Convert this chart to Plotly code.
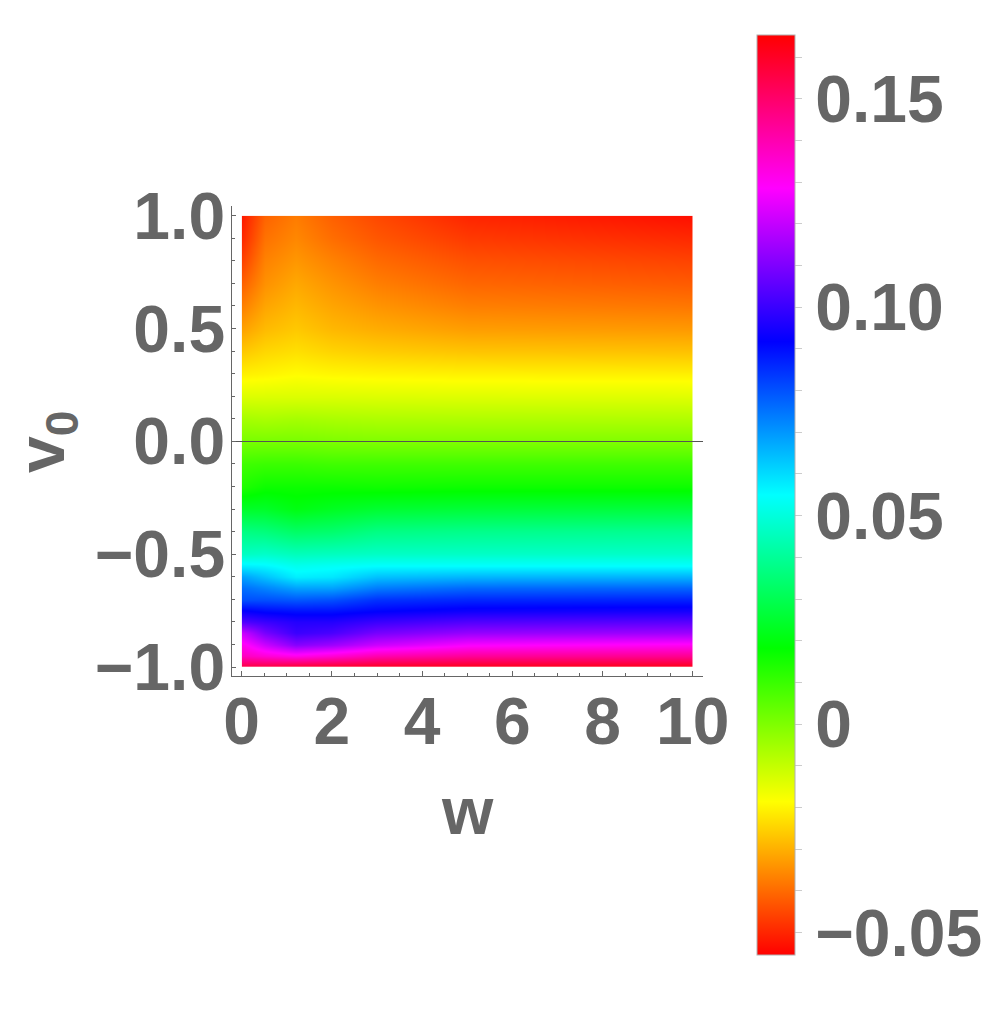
import plotly.graph_objects as go

# grid of the density plot (v0 rows, w columns)
v0_rows = [1.0, 0.9, 0.8, 0.7, 0.6, 0.5, 0.4, 0.3, 0.2, 0.1, 0.0, -0.1, -0.2, -0.3,
           -0.4, -0.5, -0.55, -0.6, -0.65, -0.7, -0.75, -0.8, -0.85, -0.9, -0.95, -1.0]
w_cols = [0.0, 0.5, 1.2, 2.0, 3.0, 5.0, 10.0]

# one list of values per w column, read top (v0=1) to bottom (v0=-1)
z_w0 = [-0.0519, -0.0497, -0.0461, -0.0415, -0.0371, -0.0322, -0.0267, -0.0207, -0.0135,
        -0.0057, 0.0009, 0.0090, 0.0137, 0.0241, 0.0373, 0.0461, 0.0572, 0.0686, 0.0757,
        0.0803, 0.0925, 0.1035, 0.1212, 0.1309, 0.1377, 0.1560]
z_w05 = [-0.0411, -0.0389, -0.0366, -0.0344, -0.0316, -0.0285, -0.0245, -0.0201, -0.0135,
         -0.0064, 0.0009, 0.0097, 0.0163, 0.0241, 0.0362, 0.0472, 0.0561, 0.0638, 0.0726,
         0.0803, 0.0903, 0.1002, 0.1090, 0.1212, 0.1344, 0.1565]
z_w12 = [-0.0375, -0.0358, -0.0336, -0.0311, -0.0289, -0.0265, -0.0232, -0.0190, -0.0135,
         -0.0057, 0.0009, 0.0097, 0.0163, 0.0207, 0.0329, 0.0450, 0.0527, 0.0572, 0.0682,
         0.0792, 0.0892, 0.0969, 0.1002, 0.1112, 0.1311, 0.1587]
z_w2 = [-0.0415, -0.0395, -0.0366, -0.0340, -0.0316, -0.0289, -0.0249, -0.0197, -0.0135,
        -0.0064, 0.0002, 0.0090, 0.0163, 0.0230, 0.0340, 0.0457, 0.0538, 0.0583, 0.0682,
        0.0803, 0.0892, 0.0969, 0.1024, 0.1145, 0.1344, 0.1598]
z_w3 = [-0.0450, -0.0428, -0.0400, -0.0371, -0.0340, -0.0305, -0.0260, -0.0201, -0.0137,
        -0.0069, -0.0002, 0.0090, 0.0159, 0.0252, 0.0373, 0.0466, 0.0550, 0.0638, 0.0737,
        0.0847, 0.0914, 0.1002, 0.1090, 0.1212, 0.1399, 0.1609]
z_w5 = [-0.0501, -0.0470, -0.0437, -0.0406, -0.0371, -0.0327, -0.0272, -0.0205, -0.0139,
        -0.0071, -0.0002, 0.0090, 0.0163, 0.0263, 0.0384, 0.0468, 0.0550, 0.0655, 0.0766,
        0.0863, 0.0936, 0.1035, 0.1134, 0.1278, 0.1432, 0.1620]
z_w10 = [-0.0532, -0.0494, -0.0457, -0.0422, -0.0382, -0.0333, -0.0276, -0.0207, -0.0141,
         -0.0073, -0.0002, 0.0090, 0.0163, 0.0274, 0.0395, 0.0472, 0.0550, 0.0660, 0.0770,
         0.0869, 0.0947, 0.1046, 0.1145, 0.1300, 0.1443, 0.1620]

z_min, z_max = -0.0554, 0.1653
cb_ticks = [round(-0.05 + 0.01 * i, 2) for i in range(22)]
cb_labels = {0.15: "0.15", 0.1: "0.10", 0.05: "0.05", 0.0: "0", -0.05: "\u22120.05"}

columns = [z_w0, z_w05, z_w12, z_w2, z_w3, z_w5, z_w10]
z = [[col[i] for col in columns] for i in range(len(v0_rows))]

# Hue colour function
hue = [[0, "#ff0000"], [1/6, "#ffff00"], [2/6, "#00ff00"], [3/6, "#00ffff"],
       [4/6, "#0000ff"], [5/6, "#ff00ff"], [1, "#ff0000"]]

# the page body has an 8px margin, so the figure is placed 8px in
OFF = 8
W, H = 1000 - 2 * OFF, 1031 - 2 * OFF
GRAY = "#666666"
FONT = dict(family="Liberation Sans, Arial", size=66, color=GRAY, weight="bold")

# window pixel boxes: data image and the (padded) axes frame
img = dict(x0=241.7, x1=692.7, y0=215.7, y1=667.0)
frm = dict(x0=232.3, x1=702.7, y0=206.0, y1=676.0)
pxw = (img["x1"] - img["x0"]) / 10
pxv = (img["y1"] - img["y0"]) / 2
x2_range = [-(img["x0"] - frm["x0"]) / pxw, 10 + (frm["x1"] - img["x1"]) / pxw]
y2_range = [-1 - (frm["y1"] - img["y1"]) / pxv, 1 + (img["y0"] - frm["y0"]) / pxv]


def xdom(b):
    return [(b["x0"] - OFF) / W, (b["x1"] - OFF) / W]


def ydom(b):
    return [1 - (b["y1"] - OFF) / H, 1 - (b["y0"] - OFF) / H]


def px(x):
    return (x - OFF) / W


def py(y):
    return 1 - (y - OFF) / H


fig = go.Figure()
fig.add_trace(go.Heatmap(
    x=w_cols, y=v0_rows, z=z, zsmooth="best", colorscale=hue,
    zmin=z_min, zmax=z_max, xaxis="x", yaxis="y",
    colorbar=dict(
        x=px(757), xanchor="left", xpad=0, ypad=0,
        y=py(495), yanchor="middle", len=920, lenmode="pixels",
        thickness=38, outlinewidth=1, outlinecolor="#b0b0b0",
        tickmode="array", tickvals=cb_ticks,
        ticktext=[cb_labels.get(t, "") for t in cb_ticks],
        ticks="outside", ticklen=7, tickcolor="#cccccc", tickwidth=1,
        tickfont=FONT,
    ),
))
# empty trace so the framed axes get drawn
fig.add_trace(go.Scatter(x=[None], y=[None], xaxis="x2", yaxis="y2",
                         showlegend=False, hoverinfo="skip"))

# axis labels
fig.add_annotation(text="w", x=px(467), y=py(811), xref="paper", yref="paper",
                   xanchor="center", yanchor="middle", showarrow=False, font=FONT)
fig.add_annotation(text="v<sub>0</sub>", x=px(46), y=py(442), xref="paper", yref="paper",
                   xanchor="center", yanchor="middle", textangle=-90, showarrow=False,
                   font=FONT)

fig.update_layout(
    width=W, height=H, margin=dict(l=0, r=0, t=0, b=0, autoexpand=False),
    paper_bgcolor="white", plot_bgcolor="rgba(0,0,0,0)", showlegend=False,
    xaxis=dict(domain=xdom(img), range=[0, 10], anchor="y", visible=False),
    yaxis=dict(domain=ydom(img), range=[-1, 1], anchor="x", visible=False),
    xaxis2=dict(domain=xdom(frm), range=x2_range, anchor="y2", automargin=False,
                showline=True, linecolor=GRAY, linewidth=1, showgrid=False, zeroline=False,
                tickvals=[0, 2, 4, 6, 8, 10], ticks="inside", ticklen=5, tickcolor=GRAY,
                minor=dict(dtick=0.5, tick0=0, ticks="inside", ticklen=3, tickcolor=GRAY),
                tickfont=FONT, ticklabelstandoff=-12),
    yaxis2=dict(domain=ydom(frm), range=y2_range, anchor="x2", automargin=False,
                showline=True, linecolor=GRAY, linewidth=1, showgrid=False,
                zeroline=True, zerolinecolor="#555555", zerolinewidth=1,
                tickvals=[-1, -0.5, 0, 0.5, 1], tickformat=".1f", ticks="inside",
                ticklen=4, tickcolor=GRAY,
                minor=dict(dtick=0.1, tick0=0, ticks="inside", ticklen=3, tickcolor=GRAY),
                tickfont=FONT, ticklabelstandoff=-7),
)

fig.write_html("out.html")
